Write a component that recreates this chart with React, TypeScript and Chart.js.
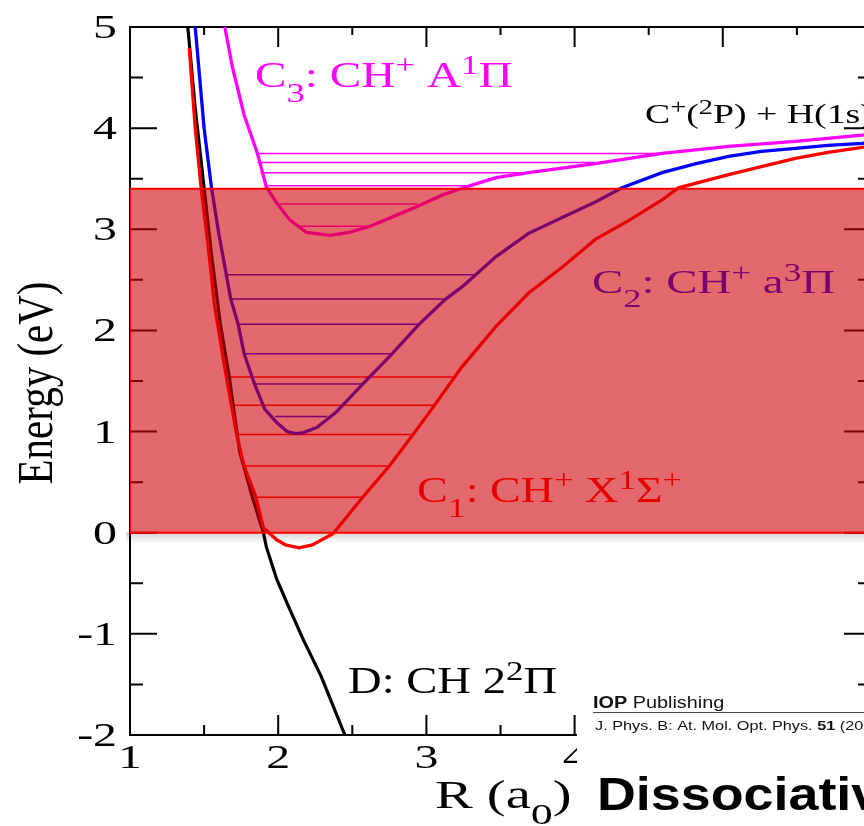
import React, { useEffect, useRef } from 'react';
import { Chart, registerables } from 'chart.js';

Chart.register(...registerables);

// ---------- data ----------
const xRange = [1, 6];
const yRange = [-2, 5];
const xMajorTicks = [1, 2, 3, 4, 5, 6];
const xMinorTicks = [1.5, 2.5, 3.5, 4.5, 5.5];
const yMajorTicks = [-2, -1, 0, 1, 2, 3, 4, 5];
const yMinorTicks = [-1.5, -0.5, 0.5, 1.5, 2.5, 3.5, 4.5];
const xTickLabels = ['1', '2', '3', '4', '5', '6'];
const yTickLabels = ['-2', '-1', '0', '1', '2', '3', '4', '5'];

const bandBounds = [0, 3.4];

// C1: CH+ X1Sigma+ (red)
const c1R = [1.40, 1.44, 1.48, 1.53, 1.57, 1.65, 1.72, 1.77, 1.85, 1.90, 1.99, 2.05, 2.14, 2.23, 2.37, 2.57, 2.75, 2.91, 3.02, 3.24, 3.47, 3.69, 3.92, 4.14, 4.37, 4.59, 4.70, 5.04, 5.26, 5.49, 5.71, 5.94, 6.0];
const c1E = [4.79, 4.0, 3.41, 2.8, 2.25, 1.54, 0.97, 0.66, 0.35, 0.05, -0.07, -0.12, -0.15, -0.12, -0.01, 0.35, 0.66, 0.97, 1.19, 1.64, 2.04, 2.37, 2.63, 2.9, 3.09, 3.29, 3.41, 3.54, 3.62, 3.7, 3.76, 3.81, 3.82];

// C2: CH+ a3Pi (blue)
const c2R = [1.44, 1.50, 1.55, 1.60, 1.65, 1.68, 1.73, 1.77, 1.84, 1.91, 1.99, 2.06, 2.12, 2.17, 2.26, 2.39, 2.57, 2.77, 2.95, 3.13, 3.24, 3.47, 3.69, 3.92, 4.14, 4.32, 4.59, 4.82, 5.04, 5.26, 5.49, 5.71, 5.94, 6.0];
const c2E = [5.0, 4.0, 3.41, 2.95, 2.55, 2.31, 2.06, 1.77, 1.47, 1.22, 1.09, 1.0, 0.98, 0.99, 1.04, 1.19, 1.47, 1.77, 2.06, 2.31, 2.43, 2.73, 2.96, 3.12, 3.27, 3.41, 3.56, 3.65, 3.72, 3.77, 3.8, 3.83, 3.85, 3.86];

// C3: CH+ A1Pi (magenta)
const c3R = [1.64, 1.69, 1.77, 1.86, 1.92, 1.99, 2.08, 2.19, 2.35, 2.48, 2.62, 2.80, 2.93, 3.11, 3.27, 3.47, 3.69, 4.14, 4.59, 5.04, 5.49, 5.94, 6.0];
const c3E = [5.0, 4.61, 4.13, 3.75, 3.42, 3.26, 3.09, 2.97, 2.94, 2.97, 3.03, 3.14, 3.22, 3.34, 3.42, 3.51, 3.56, 3.65, 3.75, 3.82, 3.87, 3.93, 3.94];

// D: CH 2^2Pi (black)
const dR = [1.39, 1.44, 1.50, 1.55, 1.61, 1.67, 1.74, 1.83, 1.90, 1.92, 1.99, 2.07, 2.17, 2.29, 2.45];
const dE = [5.0, 4.2, 3.41, 2.75, 2.06, 1.54, 0.8, 0.33, 0.0, -0.14, -0.46, -0.73, -1.06, -1.42, -2.0];

// vibrational levels: energy, inner turning point, outer turning point
const c1LevelE = [0.35, 0.66, 0.97, 1.26, 1.54];
const c1LevelL = [1.84, 1.77, 1.72, 1.69, 1.65];
const c1LevelR = [2.56, 2.74, 2.90, 3.05, 3.20];

const c2LevelE = [1.15, 1.47, 1.77, 2.06, 2.31, 2.55];
const c2LevelL = [1.98, 1.84, 1.77, 1.73, 1.68, 1.65];
const c2LevelR = [2.33, 2.57, 2.77, 2.95, 3.13, 3.32];

const c3LevelE = [3.03, 3.25, 3.43, 3.56, 3.66, 3.75];
const c3LevelL = [2.15, 1.99, 1.92, 1.88, 1.86, 1.86];
const c3LevelR = [2.62, 2.94, 3.27, 3.65, 4.14, 4.57];

// label anchors in data coordinates (R, E)
const c3LabelPos = [1.843, 4.407];
const asymLabelPos = [4.475, 4.051];
const c2LabelPos = [4.117, 2.37];
const c1LabelPos = [2.937, 0.303];
const dLabelPos = [2.471, -1.585];

// ---------- styling ----------
const CW = 1000;
const CH = 826;
const SERIF = '"Liberation Serif", "Times New Roman", serif';
const SANS = '"Liberation Sans", Arial, sans-serif';
const SX = 1.45;

type Seg = { t: string; k?: number; dy?: number; bold?: boolean; family?: string };
const SUP = { k: 0.75, dy: -0.35 };
const SUB = { k: 0.78, dy: 0.42 };

const c3Label: Seg[] = [{ t: 'C' }, { t: '3', ...SUB }, { t: ': CH' }, { t: '+', ...SUP }, { t: ' A' }, { t: '1', ...SUP }, { t: '\u03A0' }];
const c2Label: Seg[] = [{ t: 'C' }, { t: '2', ...SUB }, { t: ': CH' }, { t: '+', ...SUP }, { t: ' a' }, { t: '3', ...SUP }, { t: '\u03A0' }];
const c1Label: Seg[] = [{ t: 'C' }, { t: '1', ...SUB }, { t: ': CH' }, { t: '+', ...SUP }, { t: ' X' }, { t: '1', ...SUP }, { t: '\u03A3' }, { t: '+', ...SUP }];
const dLabel: Seg[] = [{ t: 'D: CH 2' }, { t: '2', ...SUP }, { t: '\u03A0' }];
const asymLabel: Seg[] = [{ t: 'C' }, { t: '+', ...SUP }, { t: '(' }, { t: '2', ...SUP }, { t: 'P) + H(1s)' }];
const xTitle: Seg[] = [{ t: 'R (a' }, { t: '0', ...SUB }, { t: ')' }];

function rich(ctx: CanvasRenderingContext2D, x: number, y: number, segs: Seg[], size: number, color: string, sx: number, family = SERIF) {
  ctx.save();
  ctx.translate(x, y);
  ctx.scale(sx, 1);
  ctx.fillStyle = color;
  ctx.textAlign = 'left';
  ctx.textBaseline = 'alphabetic';
  let cx = 0;
  for (const s of segs) {
    const fs = size * (s.k ?? 1);
    ctx.font = `${s.bold ? 'bold ' : ''}${fs}px ${s.family ?? family}`;
    ctx.fillText(s.t, cx, (s.dy ?? 0) * size);
    cx += ctx.measureText(s.t).width;
  }
  ctx.restore();
}

const line = (xs: number[], ys: number[], color: string, width: number) => ({
  data: xs.map((x, i) => ({ x, y: ys[i] })),
  showLine: true,
  borderColor: color,
  backgroundColor: color,
  borderWidth: width,
  pointRadius: 0,
  pointHoverRadius: 0,
  tension: 0,
  fill: false,
});

const levels = (E: number[], L: number[], R: number[], color: string) =>
  E.map((e, i) => line([L[i], R[i]], [e, e], color, 1.5));

const frameAndTicks = {
  id: 'frameAndTicks',
  beforeDatasetsDraw(chart: any) {
    const { ctx, chartArea } = chart;
    const { left, right, top, bottom } = chartArea;
    const xs = chart.scales.x;
    const ys = chart.scales.y;
    // soft shadow beneath band
    const yb = ys.getPixelForValue(bandBounds[0]);
    const g = ctx.createLinearGradient(0, yb, 0, yb + 11);
    g.addColorStop(0, 'rgba(0,0,0,0.17)');
    g.addColorStop(1, 'rgba(0,0,0,0)');
    ctx.save();
    ctx.fillStyle = g;
    ctx.fillRect(left - 4, yb, right - left + 4, 11);
    ctx.restore();

    ctx.save();
    ctx.strokeStyle = '#000';
    ctx.lineWidth = 2;
    ctx.strokeRect(left, top, right - left, bottom - top);
    ctx.beginPath();
    for (const v of xMajorTicks) {
      const p = xs.getPixelForValue(v);
      ctx.moveTo(p, bottom); ctx.lineTo(p, bottom - 20);
      ctx.moveTo(p, top); ctx.lineTo(p, top + 20);
    }
    for (const v of xMinorTicks) {
      const p = xs.getPixelForValue(v);
      ctx.moveTo(p, bottom); ctx.lineTo(p, bottom - 10);
      ctx.moveTo(p, top); ctx.lineTo(p, top + 8);
    }
    for (const v of yMajorTicks) {
      const p = ys.getPixelForValue(v);
      ctx.moveTo(left, p); ctx.lineTo(left + 27, p);
      ctx.moveTo(right, p); ctx.lineTo(right - 27, p);
    }
    for (const v of yMinorTicks) {
      const p = ys.getPixelForValue(v);
      ctx.moveTo(left, p); ctx.lineTo(left + 13, p);
      ctx.moveTo(right, p); ctx.lineTo(right - 13, p);
    }
    ctx.stroke();
    ctx.restore();
  },
  afterDatasetsDraw(chart: any) {
    const { ctx } = chart;
    const xs = chart.scales.x;
    const ys = chart.scales.y;
    const at = (p: number[]) => [xs.getPixelForValue(p[0]), ys.getPixelForValue(p[1])];
    let q = at(c3LabelPos);
    rich(ctx, q[0], q[1], c3Label, 36, '#ff00ff', 1.31);
    q = at(asymLabelPos);
    rich(ctx, q[0], q[1], asymLabel, 27, '#000', 1.4);
    q = at(c2LabelPos);
    rich(ctx, q[0], q[1], c2Label, 33, 'rgb(122,0,112)', 1.42);
    q = at(c1LabelPos);
    rich(ctx, q[0], q[1], c1Label, 36, 'rgb(228,0,0)', 1.28);
    q = at(dLabelPos);
    rich(ctx, q[0], q[1], dLabel, 37, '#000', 1.26);
  },
  afterDraw(chart: any) {
    const { ctx, chartArea } = chart;
    const xs = chart.scales.x;
    const ys = chart.scales.y;
    // tick labels
    ctx.save();
    ctx.fillStyle = '#000';
    ctx.font = `33px ${SERIF}`;
    ctx.textBaseline = 'alphabetic';
    yMajorTicks.forEach((v, i) => {
      const p = ys.getPixelForValue(v);
      const w = ctx.measureText(yTickLabels[i]).width * SX;
      ctx.save();
      ctx.translate(chartArea.left - 13 - w, p + 11);
      ctx.scale(SX, 1);
      ctx.fillText(yTickLabels[i], 0, 0);
      ctx.restore();
    });
    xMajorTicks.forEach((v, i) => {
      const p = xs.getPixelForValue(v);
      const w = ctx.measureText(xTickLabels[i]).width * SX;
      ctx.save();
      ctx.translate(p - w / 2, chartArea.bottom + 33);
      ctx.scale(SX, 1);
      ctx.fillText(xTickLabels[i], 0, 0);
      ctx.restore();
    });
    ctx.restore();

    // axis titles
    rich(ctx, 435, 808, xTitle, 39, '#000', SX);
    ctx.save();
    ctx.translate(52, (chartArea.top + chartArea.bottom) / 2 + 2);
    ctx.rotate(-Math.PI / 2);
    ctx.scale(1, 1.25);
    ctx.fillStyle = '#000';
    ctx.font = `41px ${SERIF}`;
    ctx.textAlign = 'center';
    ctx.textBaseline = 'alphabetic';
    ctx.fillText('Energy (eV)', 0, 0);
    ctx.restore();

    // pasted journal header in the lower right corner
    ctx.save();
    ctx.fillStyle = '#fff';
    ctx.fillRect(577, 688, CW - 577, CH - 688);
    ctx.strokeStyle = '#444';
    ctx.lineWidth = 1;
    ctx.beginPath();
    ctx.moveTo(593, 712.5);
    ctx.lineTo(CW, 712.5);
    ctx.stroke();
    ctx.restore();
    rich(ctx, 593, 708, [{ t: 'IOP', bold: true }, { t: ' Publishing' }], 16, '#111', 1.24, SANS);
    rich(ctx, 595, 730, [{ t: 'J. Phys. B: At. Mol. Opt. Phys. ' }, { t: '51', bold: true }, { t: ' (2018)' }], 12.5, '#111', 1.3, SANS);
    rich(ctx, 597, 810, [{ t: 'Dissociative', bold: true }], 46, '#000', 1.17, SANS);
  },
};

export default function App() {
  const ref = useRef<HTMLCanvasElement>(null);
  useEffect(() => {
    if (!ref.current) return;
    const band = {
      data: [
        { x: xRange[0], y: bandBounds[0] },
        { x: xRange[0], y: bandBounds[1] },
        { x: xRange[1], y: bandBounds[1] },
        { x: xRange[1], y: bandBounds[0] },
        { x: xRange[0], y: bandBounds[0] },
      ],
      showLine: true,
      borderColor: '#ff0000',
      backgroundColor: 'rgba(209,0,5,0.59)',
      borderWidth: 2,
      pointRadius: 0,
      pointHoverRadius: 0,
      tension: 0,
      fill: 'shape',
    };
    const datasets: any[] = [
      band,
      line(c1R, c1E, '#ff0000', 3.3),
      line(c2R, c2E, '#0000ff', 3.3),
      line(c3R, c3E, '#ff00ff', 3.3),
      line(dR, dE, '#000000', 3.2),
      ...levels(c1LevelE, c1LevelL, c1LevelR, '#ff0000'),
      ...levels(c2LevelE, c2LevelL, c2LevelR, '#0000ff'),
      ...levels(c3LevelE, c3LevelL, c3LevelR, '#ff00ff'),
    ];
    const chart = new Chart(ref.current, {
      type: 'scatter',
      data: { datasets },
      options: {
        responsive: false,
        animation: false,
        events: [],
        layout: { padding: { left: 130, top: 27, right: CW - 871, bottom: CH - 735 } },
        scales: {
          x: { type: 'linear', min: xRange[0], max: xRange[1], display: false },
          y: { type: 'linear', min: yRange[0], max: yRange[1], display: false },
        },
        plugins: { legend: { display: false }, tooltip: { enabled: false } },
      },
      plugins: [frameAndTicks as any],
    } as any);
    return () => chart.destroy();
  }, []);
  return (
    <div style={{ position: 'absolute', left: 0, top: 0, width: 864, height: 826, overflow: 'hidden', background: '#fff' }}>
      <canvas ref={ref} width={CW} height={CH} style={{ display: 'block', width: CW, height: CH }} />
    </div>
  );
}
